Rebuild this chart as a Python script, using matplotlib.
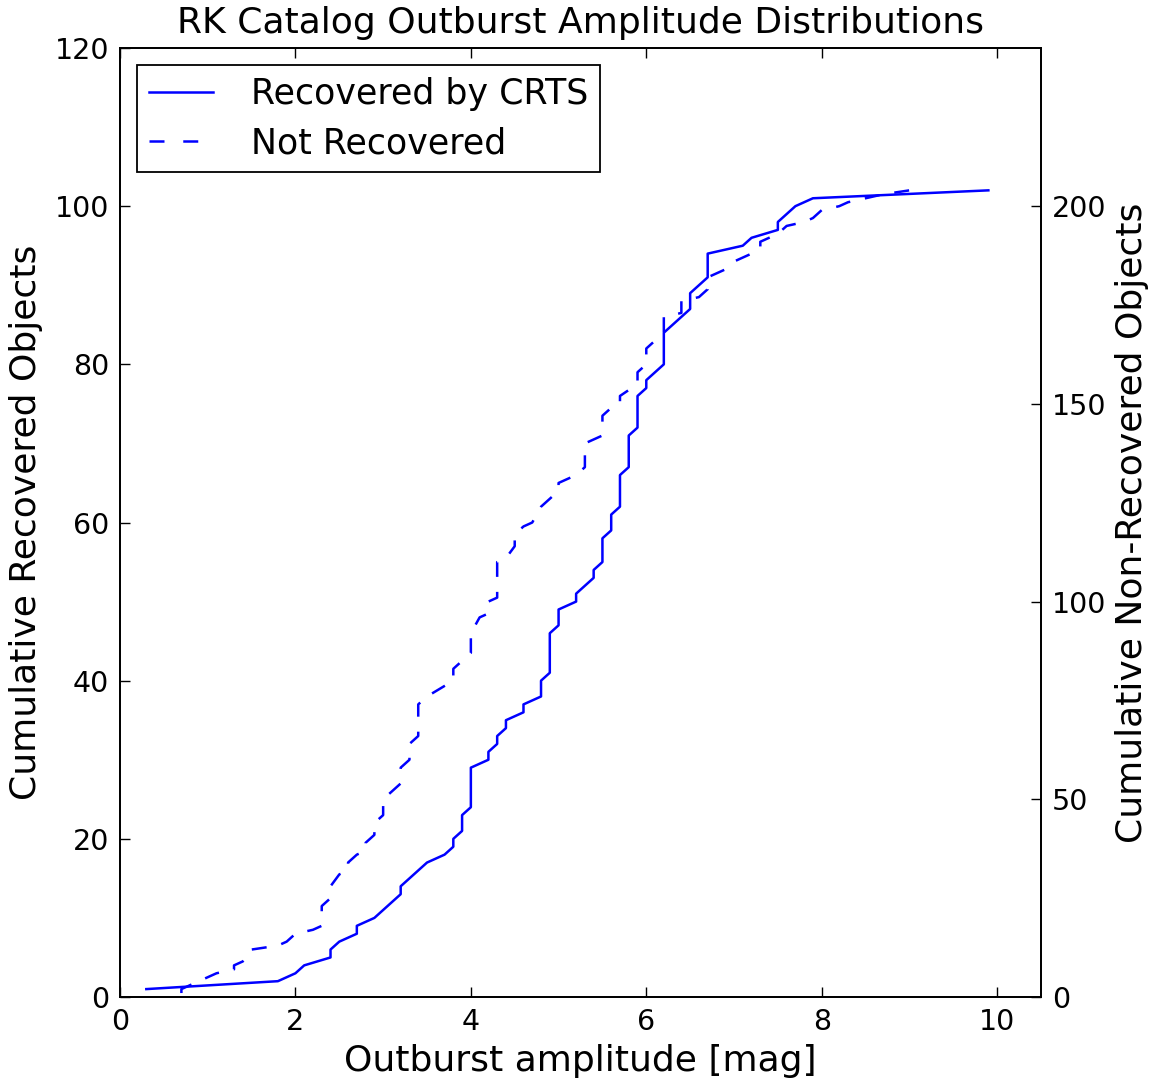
import matplotlib
matplotlib.use("Agg")
import matplotlib.pyplot as plt

# Recovered by CRTS: vertices of cumulative curve (amplitude [mag], cumulative count)
rec_amp = [0.3, 1.8, 2.0, 2.1, 2.4, 2.4, 2.5, 2.7, 2.7, 2.9, 3.0, 3.2, 3.2, 3.5, 3.7,
           3.8, 3.8, 3.9, 3.9, 4.0, 4.0, 4.2, 4.2, 4.3, 4.3, 4.4, 4.4, 4.6, 4.6, 4.8,
           4.8, 4.9, 4.9, 5.0, 5.0, 5.2, 5.2, 5.4, 5.4, 5.5, 5.5, 5.6, 5.6, 5.7, 5.7,
           5.8, 5.8, 5.9, 5.9, 6.0, 6.0, 6.2, 6.2, 6.5, 6.5, 6.7, 6.7, 7.1, 7.2, 7.5,
           7.5, 7.7, 7.9, 9.9]
rec_cum = [1, 2, 3, 4, 5, 6, 7, 8, 9, 10, 11, 13, 14, 17, 18,
           19, 20, 21, 23, 24, 29, 30, 31, 32, 33, 34, 35, 36, 37, 38,
           40, 41, 46, 47, 49, 50, 51, 53, 54, 55, 58, 59, 61, 62, 66,
           67, 71, 72, 76, 77, 78, 80, 84, 87, 89, 91, 94, 95, 96, 97,
           98, 100, 101, 102]

# Not recovered: vertices of cumulative curve
nrec_amp = [0.7, 0.7, 0.8, 1.0, 1.1, 1.3, 1.3, 1.4, 1.5, 1.5, 1.8, 1.9, 2.0, 2.2, 2.3,
            2.3, 2.4, 2.4, 2.5, 2.6, 2.6, 2.7, 2.8, 2.8, 2.9, 2.9, 3.0, 3.0, 3.1, 3.2,
            3.2, 3.3, 3.3, 3.4, 3.4, 3.5, 3.65, 3.8, 3.8, 3.9, 4.0, 4.0, 4.1, 4.2, 4.2,
            4.3, 4.3, 4.4, 4.5, 4.5, 4.6, 4.7, 4.8, 4.9, 5.0, 5.0, 5.2, 5.3, 5.3, 5.4,
            5.5, 5.5, 5.6, 5.7, 5.7, 5.9, 5.9, 6.0, 6.0, 6.1, 6.2, 6.2, 6.4, 6.4, 6.6,
            6.7, 6.7, 6.9, 7.0, 7.1, 7.3, 7.3, 7.5, 7.6, 7.8, 7.9, 8.0, 8.2, 8.3, 8.5,
            8.7, 9.0]
nrec_cum = [1, 2, 3, 5, 6, 7, 8, 9, 11, 12, 13, 14, 16, 17, 18,
            23, 25, 28, 31, 32, 34, 36, 37, 39, 41, 44, 46, 50, 52, 54,
            58, 60, 64, 66, 74, 76, 78, 80, 83, 85, 87, 92, 96, 97, 100,
            101, 110, 111, 114, 117, 119, 120, 124, 126, 128, 130, 132, 134, 140, 141,
            142, 147, 149, 150, 152, 155, 158, 160, 164, 166, 168, 172, 173, 176, 177,
            179, 182, 184, 186, 187, 189, 191, 193, 195, 196, 197, 199, 200, 201, 202,
            203, 204]

left_ticks = [0, 20, 40, 60, 80, 100, 120]
right_ticks = [0, 50, 100, 150, 200]
x_ticks = [0, 2, 4, 6, 8, 10]

DPI = 100
fig = plt.figure(figsize=(11.54, 10.8), dpi=DPI)
ax = fig.add_axes([120/1154, 1 - 997/1080, (1041 - 120)/1154, (997 - 48)/1080])
ax2 = ax.twinx()

lw = 1.8
tick_fs = 20.5
lab_fs = 26

l1, = ax.plot(rec_amp, rec_cum, color='blue', lw=lw, label='Recovered by CRTS')
l2, = ax2.plot(nrec_amp, nrec_cum, color='blue', lw=lw, ls=(0, (6, 6)),
               label='Not Recovered')

ax.set_xlim(0, 10.5)
ax.set_ylim(0, 120)
ax2.set_ylim(0, 240)
ax.set_xticks(x_ticks)
ax.set_yticks(left_ticks)
ax2.set_yticks(right_ticks)

for a in (ax, ax2):
    a.tick_params(direction='in', length=7, width=1, labelsize=tick_fs, pad=8)
    for s in a.spines.values():
        s.set_linewidth(1.3)
ax.tick_params(top=True, right=False)
ax2.tick_params(left=False, right=True)

ax.set_xlabel('Outburst amplitude [mag]', fontsize=lab_fs, labelpad=6)
ax.set_ylabel('Cumulative Recovered Objects', fontsize=lab_fs, labelpad=8)
ax2.set_ylabel('Cumulative Non-Recovered Objects', fontsize=lab_fs, labelpad=6)
ax.set_title('RK Catalog Outburst Amplitude Distributions', fontsize=lab_fs, pad=11)

leg = ax.legend([l1, l2], ['Recovered by CRTS', 'Not Recovered'], loc='upper left',
                fontsize=25, fancybox=False, framealpha=1, edgecolor='black',
                handlelength=1.85, handletextpad=1.1, borderpad=0.33, labelspacing=0.45,
                borderaxespad=0.5)
leg.get_frame().set_linewidth(1.3)
leg.get_lines()[1].set_linestyle((0, (6, 7.5)))

fig.savefig('out.png', dpi=DPI)
